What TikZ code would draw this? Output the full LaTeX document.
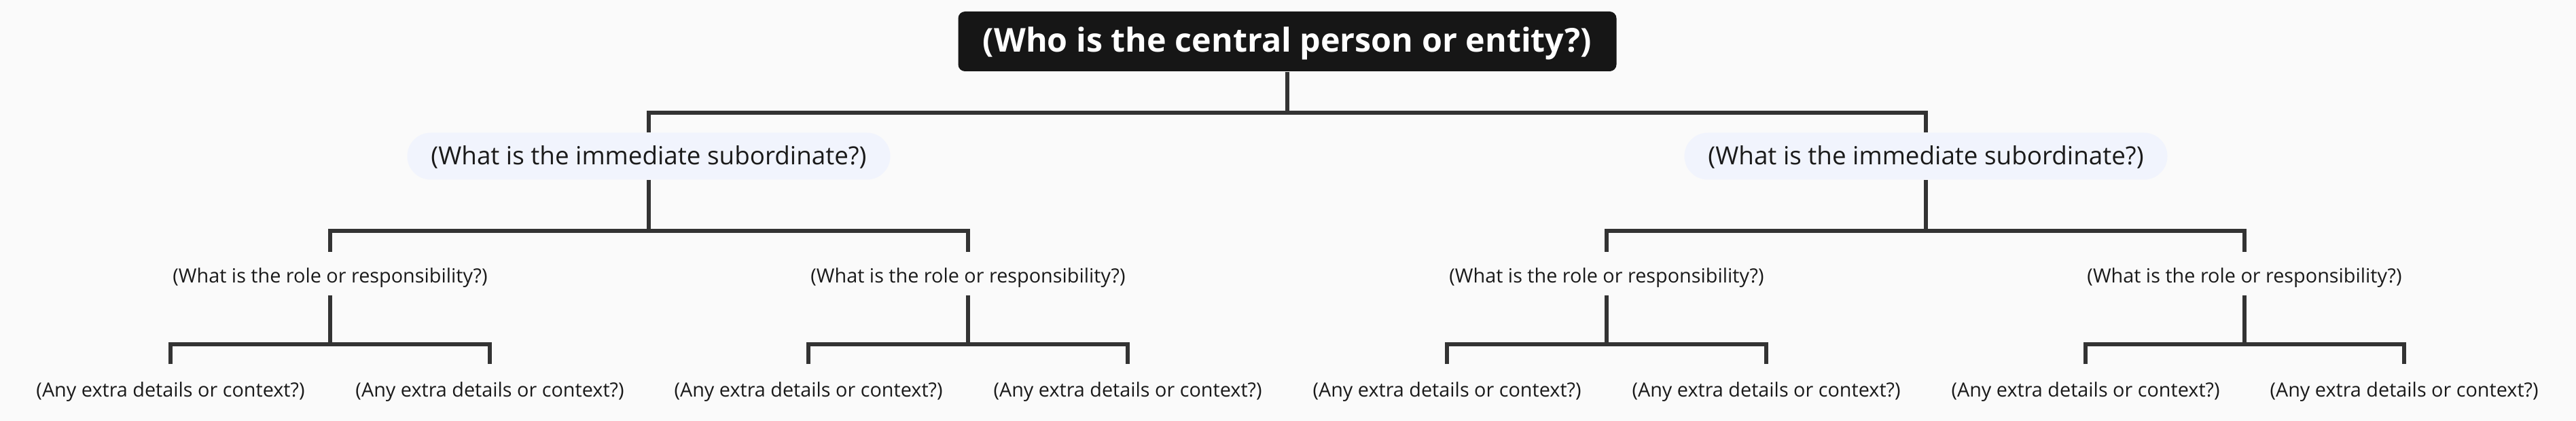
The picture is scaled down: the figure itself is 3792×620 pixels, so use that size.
\documentclass[tikz,border=0pt]{standalone}
\usepackage{fontspec}
\setmainfont{Open Sans}
\definecolor{bgc}{HTML}{FAFAFA}
\definecolor{rootc}{HTML}{161616}
\definecolor{subc}{HTML}{F1F4FD}
\definecolor{linec}{HTML}{333333}
\definecolor{txtc}{HTML}{1A1A1A}
\begin{document}
\begin{tikzpicture}[x=0.25pt,y=-0.25pt,
  conn/.style={draw=linec, line width=1.5pt, line join=miter},
  rootbox/.style={fill=rootc, text=white, rounded corners=2.5pt, minimum width=242.25pt, minimum height=22pt, inner sep=0pt, text height=0.9em, text depth=0.1em, font=\fontsize{12.1}{14}\selectfont\bfseries},
  subbox/.style={fill=subc, text=txtc, rounded corners=8.6pt, minimum width=177.75pt, minimum height=17.25pt, inner sep=0pt, text height=0.815em, text depth=0.185em, font=\fontsize{9.2}{11}\selectfont},
  rolebox/.style={text=txtc, minimum height=15.75pt, inner sep=0pt, text height=0.83em, text depth=0.17em, font=\fontsize{7.2}{8.5}\selectfont},
  leafbox/.style={text=txtc, minimum height=17pt, inner sep=0pt, text height=0.83em, text depth=0.17em, font=\fontsize{7.2}{8.5}\selectfont}]
\path[fill=bgc] (0,0) rectangle (3792,620);

\node[rootbox] (root) at (1895,61) {(Who is the central person or entity?)};

\node[subbox] (s1) at (955,230) {(What is the immediate subordinate?)};
\node[subbox] (s2) at (2835,230) {(What is the immediate subordinate?)};

\node[rolebox] (r1) at (486,403) {(What is the role or responsibility?)};
\node[rolebox] (r2) at (1425,403) {(What is the role or responsibility?)};
\node[rolebox] (r3) at (2365,403) {(What is the role or responsibility?)};
\node[rolebox] (r4) at (3304,403) {(What is the role or responsibility?)};

\node[leafbox] (l1) at (251,571) {(Any extra details or context?)};
\node[leafbox] (l2) at (721,571) {(Any extra details or context?)};
\node[leafbox] (l3) at (1190,571) {(Any extra details or context?)};
\node[leafbox] (l4) at (1660,571) {(Any extra details or context?)};
\node[leafbox] (l5) at (2130,571) {(Any extra details or context?)};
\node[leafbox] (l6) at (2600,571) {(Any extra details or context?)};
\node[leafbox] (l7) at (3070,571) {(Any extra details or context?)};
\node[leafbox] (l8) at (3539,571) {(Any extra details or context?)};

\coordinate (b0) at (1895,166);
\coordinate (b1) at (955,340);
\coordinate (b2) at (2835,340);
\coordinate (c1) at (486,507);
\coordinate (c2) at (1425,507);
\coordinate (c3) at (2365,507);
\coordinate (c4) at (3304,507);

\draw[conn] (root.south) -- (b0);
\draw[conn] (s1.north) |- (b0) -| (s2.north);

\draw[conn] (s1.south) -- (b1);
\draw[conn] (r1.north) |- (b1) -| (r2.north);
\draw[conn] (s2.south) -- (b2);
\draw[conn] (r3.north) |- (b2) -| (r4.north);

\draw[conn] (r1.south) -- (c1);
\draw[conn] (l1.north) |- (c1) -| (l2.north);
\draw[conn] (r2.south) -- (c2);
\draw[conn] (l3.north) |- (c2) -| (l4.north);
\draw[conn] (r3.south) -- (c3);
\draw[conn] (l5.north) |- (c3) -| (l6.north);
\draw[conn] (r4.south) -- (c4);
\draw[conn] (l7.north) |- (c4) -| (l8.north);
\end{tikzpicture}
\end{document}
